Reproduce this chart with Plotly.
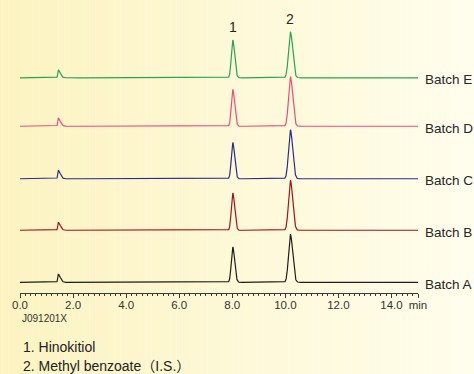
import numpy as np
import plotly.graph_objects as go

# ---- data -------------------------------------------------------------
batches = ["Batch A", "Batch B", "Batch C", "Batch D", "Batch E"]
line_colors = ["#1e1e1e", "#a3121f", "#2a2c8c", "#ec4c7c", "#24a653"]

# peak table: retention time (min), left/right width (min)
peak_rt = [1.44, 8.02, 10.19]
peak_sigma_left = [0.020, 0.055, 0.070]
peak_sigma_right = [0.080, 0.070, 0.085]
peak_labels = ["", "1", "2"]

# peak heights per batch (signal units) : [solvent, peak 1, peak 2]
heights = {
    "Batch A": [0.155, 0.69, 0.94],
    "Batch B": [0.150, 0.73, 0.98],
    "Batch C": [0.160, 0.71, 0.96],
    "Batch D": [0.155, 0.72, 0.97],
    "Batch E": [0.150, 0.74, 0.90],
}

# vertical stacking offset of each trace
offsets = [0.0, 1.02, 2.03, 3.06, 4.01]

x_ticks = [0, 2, 4, 6, 8, 10, 12, 14, 15]
x_ticktext = ["0.0", "2.0", "4.0", "6.0", "8.0", "10.0", "12.0", "14.0", "min"]

components = ["1. Hinokitiol", "2. Methyl benzoate（I.S.）"]
code = "J091201X"

# ---- build traces -----------------------------------------------------
t = np.arange(0.0, 15.0001, 0.004)


def chromatogram(h):
    y = np.zeros_like(t)
    for rt, sl, sr, a in zip(peak_rt, peak_sigma_left, peak_sigma_right, h):
        s = np.where(t < rt, sl, sr)
        y += a * np.exp(-0.5 * ((t - rt) / s) ** 2)
    return y


fig = go.Figure()

# background gradient, pale yellow to near white
n_strips = 80
c0 = np.array([252, 243, 192])
c1 = np.array([255, 254, 238])
for i in range(n_strips):
    f = i / (n_strips - 1)
    c = (c0 + (c1 - c0) * f).round().astype(int)
    fig.add_shape(type="rect", xref="paper", yref="paper", layer="below",
                  x0=-0.06 + i * 1.25 / n_strips, x1=-0.06 + (i + 1.02) * 1.25 / n_strips,
                  y0=-0.3, y1=1.0, line_width=0,
                  fillcolor=f"rgb({c[0]},{c[1]},{c[2]})")

for name, col, off in zip(batches, line_colors, offsets):
    fig.add_trace(go.Scatter(x=t, y=off + chromatogram(heights[name]),
                             mode="lines", line=dict(color=col, width=1.2),
                             name=name, hoverinfo="skip"))
    fig.add_annotation(x=15, y=off, xref="x", yref="y", text=name,
                       showarrow=False, xanchor="left", yanchor="middle",
                       xshift=5, yshift=-2,
                       font=dict(size=13.5, color="#262626"))

# peak numbers above the top trace
top = batches[-1]
for rt, lab, h in zip(peak_rt, peak_labels, heights[top]):
    if lab:
        fig.add_annotation(x=rt, y=offsets[-1] + h, text=lab, showarrow=False,
                           yanchor="bottom", yshift=3,
                           font=dict(size=14, color="#262626"))

fig.add_annotation(x=0, y=0, xref="paper", yref="paper", text=code,
                   showarrow=False, xanchor="left", yanchor="top",
                   yshift=-18, font=dict(size=10, color="#333"))
for i, txt in enumerate(components):
    fig.add_annotation(x=0, y=0, xref="paper", yref="paper", text=txt,
                       showarrow=False, xanchor="left", yanchor="middle",
                       xshift=1, yshift=-54 - 19 * i,
                       font=dict(size=14, color="#222"))

fig.update_layout(
    width=474, height=374,
    margin=dict(l=20, r=56, t=0, b=81),
    paper_bgcolor="rgba(0,0,0,0)", plot_bgcolor="rgba(0,0,0,0)",
    showlegend=False,
    font=dict(family="Liberation Sans, Arial, Noto Sans CJK JP, sans-serif"),
    xaxis=dict(range=[0, 15], showgrid=False, zeroline=False,
               showline=True, linecolor="#3a3a3a", linewidth=1,
               ticks="outside", ticklen=4, tickcolor="#3a3a3a",
               tickvals=x_ticks, ticktext=x_ticktext,
               ticklabelstandoff=-3,
               tickfont=dict(size=11.5, color="#333"),
               minor=dict(dtick=0.2, ticks="outside", ticklen=2,
                          tickcolor="#3a3a3a", showgrid=False)),
    yaxis=dict(range=[-0.21, 5.535], visible=False),
)

fig.write_html("out.html")
